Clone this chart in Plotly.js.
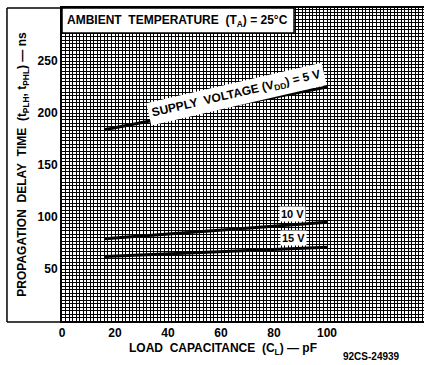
<!DOCTYPE html>
<html>
<head>
<meta charset="utf-8">
<script src="https://cdn.plot.ly/plotly-3.0.1.min.js"></script>
<style>html,body{margin:0;padding:0;background:#fff;}#chart{width:424px;height:365px;}</style>
</head>
<body>
<div id="chart"></div>
<script>
// Data
const capacitance = [16, 100];            // load capacitance, pF
const delay5V  = [184, 225];              // ns, VDD = 5 V
const delay10V = [79, 95];                // ns, VDD = 10 V
const delay15V = [62, 71];                // ns, VDD = 15 V
const xTicks = [0, 20, 40, 60, 80, 100];
const yTicks = [50, 100, 150, 200, 250];

const F = 'Liberation Sans, Arial, sans-serif';
const lineStyle = {color: '#000', width: 3};

const traces = [
  {x: capacitance, y: delay5V,  mode: 'lines', line: lineStyle, name: '5 V',  hoverinfo: 'skip'},
  {x: capacitance, y: delay10V, mode: 'lines', line: lineStyle, name: '10 V', hoverinfo: 'skip'},
  {x: capacitance, y: delay15V, mode: 'lines', line: lineStyle, name: '15 V', hoverinfo: 'skip'}
];

const layout = {
  width: 424, height: 365,
  margin: {l: 62, r: 0, t: 8, b: 44},
  paper_bgcolor: '#fff', plot_bgcolor: '#fff',
  showlegend: false,
  font: {family: F, color: '#000', size: 12},
  xaxis: {
    range: [0, 136.6], tickvals: xTicks, ticktext: xTicks.map(String),
    showgrid: true, gridcolor: '#000', gridwidth: 1,
    minor: {tick0: 0, dtick: 20/15, showgrid: true, gridcolor: '#000', gridwidth: 1},
    showline: true, linecolor: '#000', linewidth: 2, mirror: true,
    zeroline: false, ticks: '', tickfont: {family: F, size: 12, weight: 'bold'},
    fixedrange: true
  },
  yaxis: {
    range: [0, 301], tickvals: yTicks, ticktext: yTicks.map(String),
    showgrid: true, gridcolor: '#000', gridwidth: 1,
    minor: {tick0: 0, dtick: 50/15, showgrid: true, gridcolor: '#000', gridwidth: 1},
    showline: true, linecolor: '#000', linewidth: 2, mirror: false,
    zeroline: false, ticks: '', tickfont: {family: F, size: 12, weight: 'bold'},
    title: {text: 'PROPAGATION  DELAY  TIME  (t<sub>PLH</sub>, t<sub>PHL</sub>) — ns',
            font: {family: F, size: 12, weight: 'bold'}, standoff: 8},
    fixedrange: true
  },
  shapes: [
    // title box
    {type: 'rect', xref: 'paper', yref: 'paper', x0: 0, x1: 0.641, y0: 0.92, y1: 1.0,
     fillcolor: '#fff', line: {color: '#000', width: 1.5}, layer: 'above'},
    // outer frame (left, top, bottom)
    {type: 'line', xref: 'paper', yref: 'paper', x0: -0.152, x1: -0.152, y0: -0.003, y1: 1.0,
     line: {color: '#000', width: 1.5}},
    {type: 'line', xref: 'paper', yref: 'paper', x0: -0.152, x1: 0, y0: 1.0, y1: 1.0,
     line: {color: '#000', width: 1.5}},
    {type: 'line', xref: 'paper', yref: 'paper', x0: -0.152, x1: 0, y0: -0.003, y1: -0.003,
     line: {color: '#000', width: 1.5}}
  ],
  annotations: [
    {xref: 'paper', yref: 'paper', x: 0.008, y: 0.96, xanchor: 'left', yanchor: 'middle',
     text: 'AMBIENT  TEMPERATURE  (T<sub>A</sub>) = 25°C', showarrow: false,
     font: {family: F, size: 12, weight: 'bold'}},
    {x: 66, y: 218, text: 'SUPPLY  VOLTAGE (V<sub>DD</sub>) = 5 V', showarrow: false,
     textangle: -13, bgcolor: '#fff', borderpad: 3,
     font: {family: F, size: 12, weight: 'bold'}},
    {x: 86.8, y: 103, text: '10 V', showarrow: false, bgcolor: '#fff', borderpad: 1,
     font: {family: F, size: 11, weight: 'bold'}},
    {x: 87.2, y: 80, text: '15 V', showarrow: false, bgcolor: '#fff', borderpad: 1,
     font: {family: F, size: 11, weight: 'bold'}},
    {xref: 'paper', yref: 'paper', x: (223 - 62) / 362, xanchor: 'center', y: -0.09, yanchor: 'middle',
     text: 'LOAD  CAPACITANCE  (C<sub>L</sub>) — pF', showarrow: false,
     font: {family: F, size: 12, weight: 'bold'}},
    {xref: 'paper', yref: 'paper', x: (371 - 62) / 362, xanchor: 'center', y: -0.115, yanchor: 'middle',
     text: '92CS-24939', showarrow: false,
     font: {family: F, size: 10, weight: 'bold'}}
  ]
};

Plotly.newPlot('chart', traces, layout, {displayModeBar: false, staticPlot: true});
</script>
</body>
</html>
